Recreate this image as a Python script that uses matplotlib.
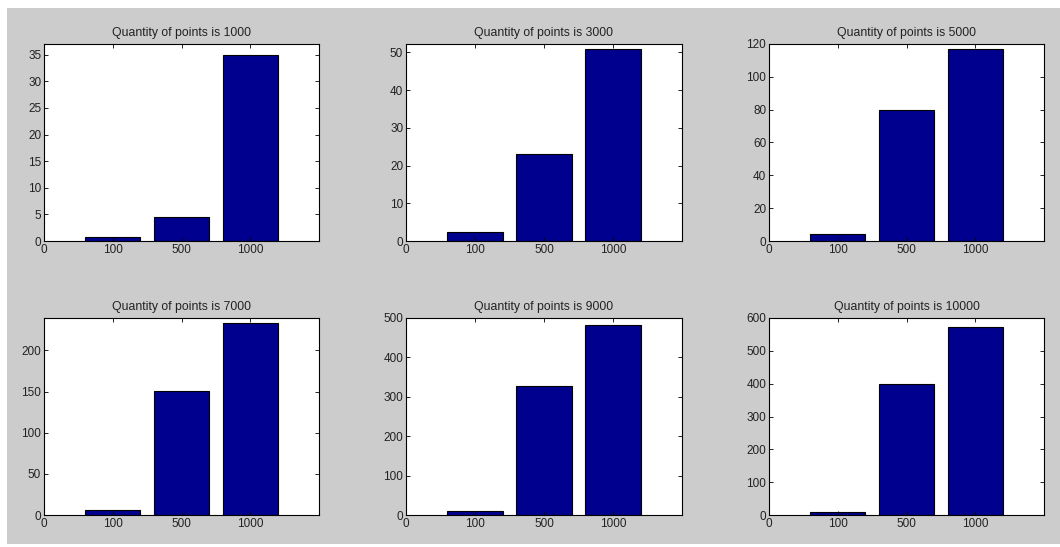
import matplotlib
matplotlib.use("Agg")
from matplotlib import pyplot as plt
import matplotlib.patches as mpatches
import numpy as np

# data
categories = ["100", "500", "1000"]
quantities = [1000, 3000, 5000, 7000, 9000, 10000]
counts = [
    [0.7, 4.6, 35],
    [2.5, 23, 51],
    [4.3, 80, 117],
    [6.5, 151, 233],
    [10, 327, 481],
    [8, 400, 574],
]
ylims = [37, 52.2, 120, 239.5, 500, 600]
yticks = [
    [0, 5, 10, 15, 20, 25, 30, 35],
    [0, 10, 20, 30, 40, 50],
    [0, 20, 40, 60, 80, 100, 120],
    [0, 50, 100, 150, 200],
    [0, 100, 200, 300, 400, 500],
    [0, 100, 200, 300, 400, 500, 600],
]

plt.rcParams["font.family"] = ["Liberation Sans", "DejaVu Sans"]
plt.rcParams["font.size"] = 8

W, H = 1060, 547
fig = plt.figure(figsize=(W / 100, H / 100), dpi=100, facecolor="white")
# grey MATLAB-style figure area (white strip on top/left/bottom as in screenshot)
fig.patches.append(mpatches.Rectangle((7 / W, 3 / H), 1 - 7 / W, (H - 11) / H,
                                      transform=fig.transFigure, facecolor="#cccccc",
                                      edgecolor="none", zorder=-10))

lefts = [44, 406, 769]
widths = [275, 276, 275]
tops = [44, 318]
ah = 197

for i in range(6):
    r, c = divmod(i, 3)
    ax = fig.add_axes([lefts[c] / W, 1 - (tops[r] + ah) / H, widths[c] / W, ah / H])
    ax.set_facecolor("white")
    x = np.arange(1, len(categories) + 1)
    ax.bar(x, counts[i], width=0.8, color="#00008f", edgecolor="black", linewidth=0.8)
    ax.set_xlim(0, 4)
    ax.set_ylim(0, ylims[i])
    ax.set_xticks([0, 1, 2, 3])
    ax.set_xticklabels(["0"] + categories)
    ax.set_yticks(yticks[i])
    ax.tick_params(direction="in", top=True, right=True, length=3, width=0.6,
                   labelsize=8.5, pad=2, colors="black", labelcolor="#222222")
    for s in ax.spines.values():
        s.set_linewidth(0.8)
    ax.set_title("Quantity of points is %d" % quantities[i], fontsize=8.8, pad=6,
                 color="#222222")

plt.savefig("out.png", dpi=100, facecolor=fig.get_facecolor())
